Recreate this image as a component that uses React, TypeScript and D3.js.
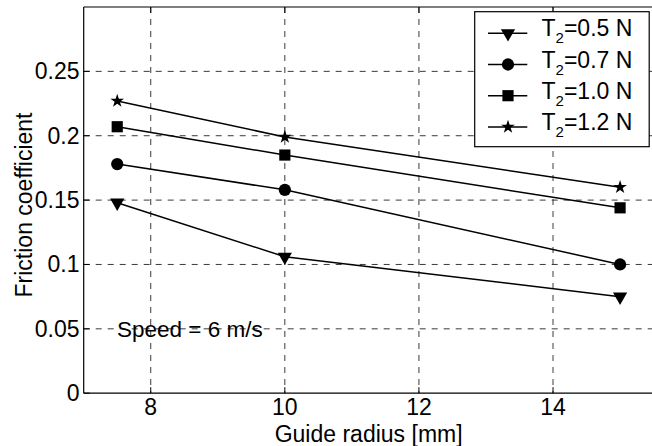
import React from "react";
import * as d3 from "d3";

const radii = [7.5, 10, 15];
const seriesLabels = ["0.5", "0.7", "1.0", "1.2"];
const t05 = [0.148, 0.106, 0.075];
const t07 = [0.178, 0.158, 0.1];
const t10 = [0.207, 0.185, 0.144];
const t12 = [0.227, 0.199, 0.16];
const xTicks = [8, 10, 12, 14];
const yTicks = [0, 0.05, 0.1, 0.15, 0.2, 0.25];
const yTickLabels = ["0", "0.05", "0.1", "0.15", "0.2", "0.25"];

const W = 652;
const H = 446;
const FONT = "Arial, 'Liberation Sans', Helvetica, sans-serif";
const FS = 23;

const x = d3.scaleLinear().domain([7, 15.5]).range([83.7, 653.6]);
const y = d3.scaleLinear().domain([0, 0.3]).range([393.2, 7]);

const series = [
  { label: seriesLabels[0], values: t05, sym: d3.symbolTriangle, size: 88, rot: 180 },
  { label: seriesLabels[1], values: t07, sym: d3.symbolCircle, size: 118, rot: 0 },
  { label: seriesLabels[2], values: t10, sym: d3.symbolSquare, size: 125, rot: 0 },
  { label: seriesLabels[3], values: t12, sym: d3.symbolStar, size: 58, rot: 0 },
];

function Marker({ cx, cy, s }: { cx: number; cy: number; s: any }) {
  const p = d3.symbol().type(s.sym).size(s.size)() as string;
  return <path d={p} transform={`translate(${cx},${cy}) rotate(${s.rot})`} fill="#000" />;
}

export default function App() {
  const line = d3
    .line<number>()
    .x((_, i) => x(radii[i]))
    .y((v) => y(v));
  const left = x.range()[0];
  const right = x.range()[1];
  const top = y.range()[1];
  const bottom = y.range()[0];
  const legX = 474.7;
  const legY = 11.7;
  const legW = 174.5;
  const legH = 135;
  return (
    <svg
      width={W}
      height={H}
      style={{ position: "absolute", left: 0, top: 0, background: "#fff" }}
      fontFamily={FONT}
    >
      <rect x={0} y={0} width={W} height={H} fill="#fff" />
      {/* grid */}
      {xTicks.map((t) => (
        <line key={"gx" + t} x1={x(t)} x2={x(t)} y1={top} y2={bottom} stroke="#3a3a3a" strokeWidth={1} strokeDasharray="6,6" />
      ))}
      {yTicks.slice(1).map((t) => (
        <line key={"gy" + t} x1={left} x2={right} y1={y(t)} y2={y(t)} stroke="#3a3a3a" strokeWidth={1} strokeDasharray="6,6" />
      ))}
      {/* axes box */}
      <line x1={left} x2={right} y1={bottom} y2={bottom} stroke="#000" strokeWidth={1.2} />
      <line x1={left} x2={right} y1={top} y2={top} stroke="#000" strokeWidth={1.2} />
      <line x1={left} x2={left} y1={top} y2={bottom} stroke="#000" strokeWidth={1.2} />
      {xTicks.map((t) => (
        <g key={"tx" + t}>
          <line x1={x(t)} x2={x(t)} y1={bottom} y2={bottom - 6} stroke="#000" />
          <line x1={x(t)} x2={x(t)} y1={top} y2={top + 6} stroke="#000" />
          <text x={x(t)} y={bottom + 22} fontSize={FS} textAnchor="middle" fill="#000">
            {t}
          </text>
        </g>
      ))}
      {yTicks.map((t, i) => (
        <g key={"ty" + t}>
          <line x1={left} x2={left + 6} y1={y(t)} y2={y(t)} stroke="#000" />
          <text x={79.5} y={y(t) + 8} fontSize={FS} textAnchor="end" fill="#000">
            {yTickLabels[i]}
          </text>
        </g>
      ))}
      {/* series */}
      {series.map((s) => (
        <g key={s.label}>
          <path d={line(s.values) as string} fill="none" stroke="#000" strokeWidth={1.5} />
          {s.values.map((v, i) => (
            <Marker key={i} cx={x(radii[i])} cy={y(v)} s={s} />
          ))}
        </g>
      ))}
      {/* annotation */}
      <text x={117} y={y(0.05) + 8} fontSize={22.5} fill="#000">
        Speed = 6 m/s
      </text>
      {/* labels */}
      <text x={(left + right) / 2} y={442} fontSize={FS} textAnchor="middle" fill="#000">
        Guide radius [mm]
      </text>
      <text
        transform={`translate(31.5,205) rotate(-90)`}
        fontSize={FS}
        textAnchor="middle"
        fill="#000"
      >
        Friction coefficient
      </text>
      {/* legend */}
      <rect x={legX} y={legY} width={legW} height={legH} fill="#fff" stroke="#000" strokeWidth={1.2} />
      {series.map((s, i) => {
        const cy = 33.3 + i * 31.2;
        return (
          <g key={"lg" + s.label}>
            <line x1={488} x2={527.3} y1={cy} y2={cy} stroke="#000" strokeWidth={1.5} />
            <Marker cx={508} cy={cy} s={s} />
            <text x={541.5} y={cy + 3} fontSize={FS} fill="#000">
              T
              <tspan fontSize={15} dy={7}>2</tspan>
              <tspan dy={-7}>={s.label} N</tspan>
            </text>
          </g>
        );
      })}
    </svg>
  );
}
